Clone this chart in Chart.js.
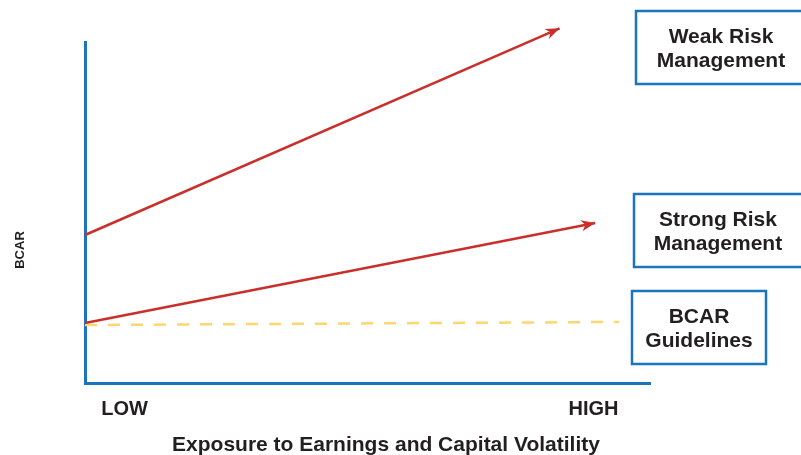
<!DOCTYPE html>
<html>
<head>
<meta charset="utf-8">
<script src="https://cdn.jsdelivr.net/npm/chart.js@4/dist/chart.umd.min.js"></script>
<style>
  html, body { margin: 0; padding: 0; background: #fff; }
  #wrap { width: 801px; height: 455px; position: relative; }
</style>
</head>
<body>
<div id="wrap"><canvas id="grafico" width="801" height="455"></canvas></div>
<script>
// datos del esquema (escala 0-100 en ambos ejes)
const categorias = ["LOW", "HIGH"];
const posCategorias = [7, 90];
const series = ["Weak Risk Management", "Strong Risk Management", "BCAR Guidelines"];
const weakX = [0, 84];
const weakY = [43.4, 104];
const strongX = [0, 90.3];
const strongY = [17.6, 46.9];
const bcarX = [0, 94.5];
const bcarY = [17.0, 17.9];

const ROJO = "#c9302c";
const AZUL = "#1b75bb";
const AMARILLO = "#fcd670";
const fuente = "'Liberation Sans', Arial, sans-serif";

function puntos(xs, ys) {
    return xs.map((x, i) => ({ x: x, y: ys[i] }));
}

// flechas al final de las lineas rojas
const flechas = {
    id: "flechas",
    afterDatasetsDraw(chart) {
        const ctx = chart.ctx;
        chart.data.datasets.forEach((ds, i) => {
            if (!ds.flecha) return;
            const pts = chart.getDatasetMeta(i).data;
            const a = pts[pts.length - 2], b = pts[pts.length - 1];
            const ang = Math.atan2(b.y - a.y, b.x - a.x);
            ctx.save();
            ctx.translate(b.x, b.y);
            ctx.rotate(ang);
            ctx.fillStyle = ds.borderColor;
            ctx.beginPath();
            ctx.moveTo(0, 0);
            ctx.lineTo(-14, -5.5);
            ctx.lineTo(-10, 0);
            ctx.lineTo(-14, 5.5);
            ctx.closePath();
            ctx.fill();
            ctx.restore();
        });
    }
};

// cajas con las etiquetas de cada serie y titulos de ejes
const cajas = {
    id: "cajas",
    afterDraw(chart) {
        const ctx = chart.ctx;
        const lista = [
            { x: 636, y: 11, w: 170, h: 73, centro: 721, lineas: ["Weak Risk", "Management"] },
            { x: 634, y: 194, w: 172, h: 73, centro: 718, lineas: ["Strong Risk", "Management"] },
            { x: 632, y: 291, w: 134, h: 73, centro: 699, lineas: ["BCAR", "Guidelines"] }
        ];
        ctx.save();
        lista.forEach((c) => {
            ctx.strokeStyle = AZUL;
            ctx.lineWidth = 2.5;
            ctx.strokeRect(c.x, c.y, c.w, c.h);
            ctx.fillStyle = "#231f20";
            ctx.font = "bold 21px " + fuente;
            ctx.textAlign = "center";
            ctx.textBaseline = "alphabetic";
            ctx.fillText(c.lineas[0], c.centro, c.y + 32);
            ctx.fillText(c.lineas[1], c.centro, c.y + 56);
        });
        // titulo del eje x
        ctx.font = "bold 21px " + fuente;
        ctx.textAlign = "center";
        ctx.textBaseline = "alphabetic";
        ctx.fillText("Exposure to Earnings and Capital Volatility", 386, 451);
        // titulo del eje y
        ctx.translate(20, 250);
        ctx.rotate(-Math.PI / 2);
        ctx.font = "bold 13px " + fuente;
        ctx.textBaseline = "middle";
        ctx.fillText("BCAR", 0, 0);
        ctx.restore();
    }
};

new Chart(document.getElementById("grafico"), {
    type: "line",
    data: {
        datasets: [
            { label: series[0], data: puntos(weakX, weakY), borderColor: ROJO, borderWidth: 2.5, pointRadius: 0, flecha: true, clip: false },
            { label: series[1], data: puntos(strongX, strongY), borderColor: ROJO, borderWidth: 2.5, pointRadius: 0, flecha: true, clip: false },
            { label: series[2], data: puntos(bcarX, bcarY), borderColor: AMARILLO, borderWidth: 2.5, borderDash: [12, 11], pointRadius: 0, clip: false }
        ]
    },
    options: {
        responsive: false,
        animation: false,
        devicePixelRatio: 1,
        layout: { padding: { left: 0, right: 151, top: 42, bottom: 0 } },
        plugins: { legend: { display: false }, tooltip: { enabled: false } },
        scales: {
            x: {
                type: "linear", min: 0, max: 100,
                grid: { display: false, drawTicks: false },
                border: { color: AZUL, width: 3 },
                afterBuildTicks: (eje) => { eje.ticks = posCategorias.map((v) => ({ value: v })); },
                ticks: {
                    autoSkip: false, maxRotation: 0, padding: 14,
                    color: "#231f20", font: { family: fuente, size: 20, weight: "bold" },
                    callback: (v) => categorias[posCategorias.indexOf(v)]
                },
                afterFit: (eje) => { eje.height = 72; }
            },
            y: {
                type: "linear", min: 0, max: 100,
                grid: { display: false, drawTicks: false },
                border: { color: AZUL, width: 3 },
                ticks: { display: false },
                afterFit: (eje) => { eje.width = 85; }
            }
        }
    },
    plugins: [flechas, cajas]
});
</script>
</body>
</html>
